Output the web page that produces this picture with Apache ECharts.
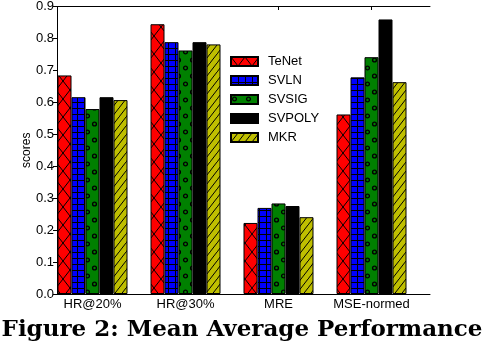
<!DOCTYPE html>
<html>
<head>
<meta charset="utf-8">
<script src="https://cdn.jsdelivr.net/npm/echarts@6/dist/echarts.min.js"></script>
<style>
html,body{margin:0;padding:0;background:#fff;}
#c{width:484px;height:344px;}
</style>
</head>
<body>
<div id="c"></div>
<script>
const categories = ['HR@20%', 'HR@30%', 'MRE', 'MSE-normed'];
const seriesNames = ['TeNet', 'SVLN', 'SVSIG', 'SVPOLY', 'MKR'];
const tenet  = [0.683, 0.843, 0.222, 0.561];
const svln   = [0.615, 0.787, 0.269, 0.677];
const svsig  = [0.578, 0.761, 0.283, 0.740];
const svpoly = [0.615, 0.787, 0.275, 0.858];
const mkr    = [0.606, 0.780, 0.240, 0.662];
const yTicks = [0.0, 0.1, 0.2, 0.3, 0.4, 0.5, 0.6, 0.7, 0.8, 0.9];
const titleText = 'Figure 2: Mean Average Performance';

function makeTile(w, h, bg, draw) {
  const c = document.createElement('canvas');
  c.width = w; c.height = h;
  const ctx = c.getContext('2d');
  ctx.fillStyle = bg; ctx.fillRect(0, 0, w, h);
  ctx.strokeStyle = '#000'; ctx.fillStyle = '#000'; ctx.lineWidth = 1;
  draw(ctx, w, h);
  return c;
}
const patCross = makeTile(14, 18, '#ff0000', (ctx, w, h) => {
  ctx.beginPath();
  ctx.moveTo(0, 0); ctx.lineTo(w, h);
  ctx.moveTo(w, 0); ctx.lineTo(0, h);
  ctx.stroke();
});
const patGrid = makeTile(7, 6, '#0000ff', (ctx, w, h) => {
  ctx.fillRect(0, 0, w, 1);
  ctx.fillRect(0, 0, 1, h);
});
const patDots = makeTile(14, 16, '#008000', (ctx, w, h) => {
  ctx.lineWidth = 1.4;
  ctx.beginPath(); ctx.arc(3.5, 4, 1.9, 0, Math.PI * 2); ctx.stroke();
  ctx.beginPath(); ctx.arc(10.5, 12, 1.9, 0, Math.PI * 2); ctx.stroke();
});
const patSlash = makeTile(7, 9, '#bfbf00', (ctx, w, h) => {
  ctx.beginPath();
  ctx.moveTo(0, h); ctx.lineTo(w, 0);
  ctx.moveTo(-w, h); ctx.lineTo(0, 0);
  ctx.moveTo(w, 2 * h); ctx.lineTo(2 * w, h);
  ctx.stroke();
});

const fills = [
  {image: patCross, repeat: 'repeat'},
  {image: patGrid, repeat: 'repeat'},
  {image: patDots, repeat: 'repeat'},
  '#000000',
  {image: patSlash, repeat: 'repeat'}
];
const values = [tenet, svln, svsig, svpoly, mkr];

const FONT = 'Liberation Sans';
const chart = echarts.init(document.getElementById('c'), null, {renderer: 'canvas'});
chart.setOption({
  animation: false,
  backgroundColor: '#fff',
  textStyle: {fontFamily: FONT, color: '#000'},
  title: {
    text: titleText,
    left: 'center', bottom: -3,
    textStyle: {fontFamily: 'DejaVu Serif', fontWeight: 'bold', fontSize: 23, color: '#000'}
  },
  legend: {
    orient: 'vertical', left: 230, top: 55, padding: 0,
    itemWidth: 27, itemHeight: 9, itemGap: 6,
    data: seriesNames,
    icon: 'rect',
    textStyle: {fontFamily: FONT, fontSize: 13, color: '#000', padding: [0, 0, 0, 5]}
  },
  grid: [
    {left: 57, right: 54, top: 6, bottom: 50, containLabel: false},
    {left: 46, right: 66, top: 6, bottom: 50, containLabel: false}
  ],
  xAxis: [
    {gridIndex: 0, type: 'value', min: 0, max: 1, position: 'bottom',
     axisLine: {onZero: false, lineStyle: {color: '#000', width: 1}}, axisTick: {show: false},
     axisLabel: {show: false}, splitLine: {show: false}},
    {gridIndex: 0, type: 'value', min: 0, max: 1, position: 'top',
     axisLine: {onZero: false, lineStyle: {color: '#000', width: 1}}, axisTick: {show: false},
     axisLabel: {show: false}, splitLine: {show: false}},
    {gridIndex: 1, type: 'category', data: categories, position: 'bottom',
     axisLine: {show: false}, axisTick: {show: false},
     axisLabel: {interval: 0, fontFamily: FONT, fontSize: 13, color: '#000', margin: 4}},
    {gridIndex: 1, type: 'category', data: categories, position: 'top',
     axisLine: {show: false},
     axisTick: {show: true, inside: true, length: 4, alignWithLabel: true,
                interval: (i) => i >= 2, lineStyle: {color: '#000'}},
     axisLabel: {show: false}}
  ],
  yAxis: [
    {gridIndex: 0, type: 'value', min: 0, max: 0.9, interval: 0.1, position: 'left',
     name: 'scores', nameLocation: 'middle', nameGap: 24, nameRotate: 90, nameMoveOverlap: false,
     nameTextStyle: {fontFamily: FONT, fontSize: 12, color: '#000'},
     axisLine: {show: true, lineStyle: {color: '#000', width: 1}}, axisTick: {show: false},
     axisLabel: {fontFamily: FONT, fontSize: 13, color: '#000', margin: 3,
                 formatter: (v) => yTicks.reduce((a, t) => Math.abs(t - v) < 1e-6 ? t.toFixed(1) : a, '')},
     splitLine: {show: false}},
    {gridIndex: 0, type: 'value', min: 0, max: 0.9, interval: 0.1, position: 'right',
     axisLine: {show: true, lineStyle: {color: '#000', width: 1}},
     axisTick: {show: true, inside: true, length: 4, lineStyle: {color: '#000'}},
     axisLabel: {show: false}, splitLine: {show: false}},
    {gridIndex: 1, type: 'value', min: 0, max: 0.9, interval: 0.1, show: false}
  ],
  series: seriesNames.map((n, i) => ({
    name: n, type: 'bar', xAxisIndex: 2, yAxisIndex: 2,
    data: values[i], barWidth: 14, barGap: '0%',
    itemStyle: {color: fills[i], borderColor: '#000', borderWidth: 1},
    emphasis: {disabled: true}
  }))
});
</script>
</body>
</html>
